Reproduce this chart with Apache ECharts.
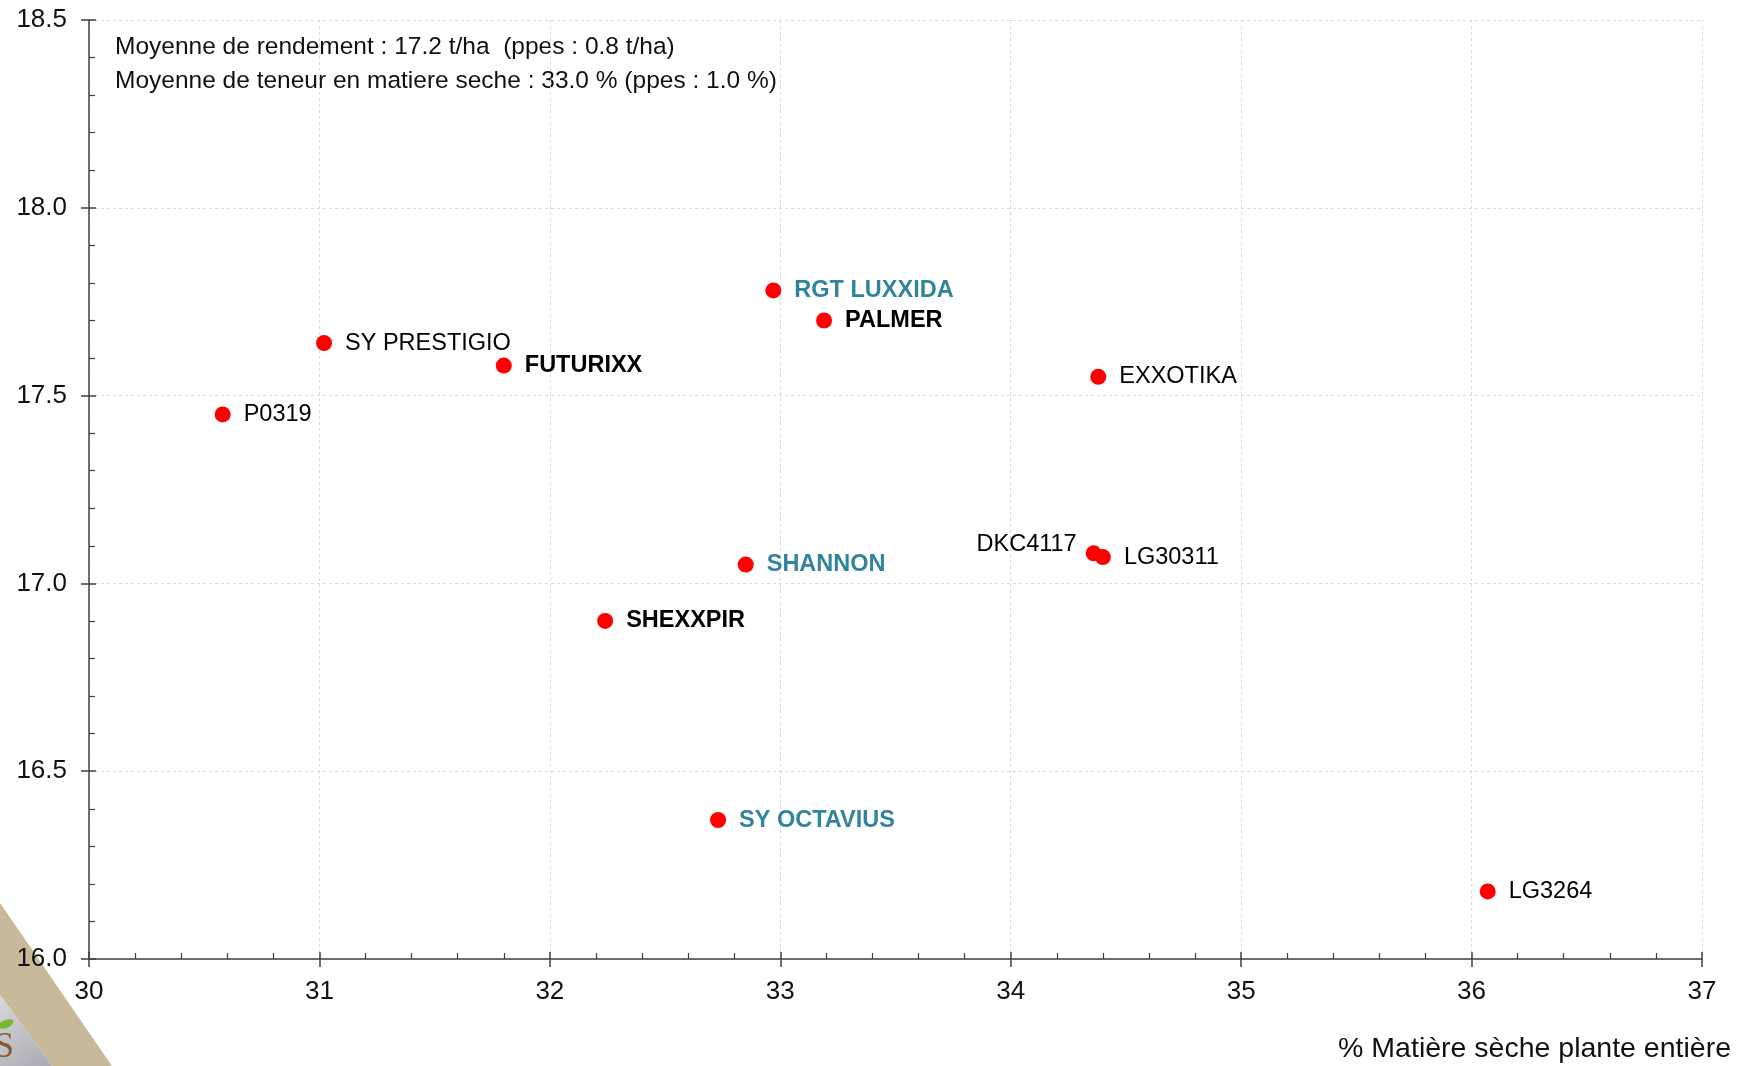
<!DOCTYPE html>
<html>
<head>
<meta charset="utf-8">
<script src="https://cdn.jsdelivr.net/npm/echarts@6/dist/echarts.min.js"></script>
<style>
  html, body { margin: 0; padding: 0; background: #fff; }
  #main { width: 1742px; height: 1066px; }
</style>
</head>
<body>
<div id="main"></div>
<script>
// variétés : % matière sèche (x) et rendement t/ha (y)
var names = ['P0319', 'SY PRESTIGIO', 'FUTURIXX', 'RGT LUXXIDA', 'PALMER', 'EXXOTIKA',
             'SHANNON', 'SHEXXPIR', 'DKC4117', 'LG30311', 'SY OCTAVIUS', 'LG3264'];
var matiereSeche = [30.58, 31.02, 31.80, 32.97, 33.19, 34.38, 32.85, 32.24, 34.36, 34.40, 32.73, 36.07];
var rendement = [17.45, 17.64, 17.58, 17.78, 17.70, 17.55, 17.05, 16.90, 17.08, 17.07, 16.37, 16.18];
// 'blue' = bleu gras, 'bold' = noir gras, 'normal', 'left' = étiquette à gauche
var labelType = ['normal', 'normal', 'bold', 'blue', 'bold', 'normal',
                 'blue', 'bold', 'left', 'normal', 'blue', 'normal'];
var xTicks = [30, 31, 32, 33, 34, 35, 36, 37];
var yTicks = [16.0, 16.5, 17.0, 17.5, 18.0, 18.5];
var noteLines = ['Moyenne de rendement : 17.2 t/ha  (ppes : 0.8 t/ha)',
                 'Moyenne de teneur en matiere seche : 33.0 % (ppes : 1.0 %)'];
var xName = '% Matière sèche plante entière';

var FONT = 'Liberation Sans, Arial, sans-serif';

var points = names.map(function (n, i) {
  var t = labelType[i];
  var lab = {
    show: true,
    position: 'right',
    distance: 13,
    formatter: n,
    fontFamily: FONT,
    fontSize: 23.5,
    color: '#000'
  };
  if (t === 'blue') { lab.color = '#31849B'; lab.fontWeight = 'bold'; }
  if (t === 'bold') { lab.fontWeight = 'bold'; }
  if (t === 'left') { lab.position = 'left'; lab.distance = 9; lab.offset = [0, -9]; }
  return { value: [matiereSeche[i], rendement[i]], label: lab };
});

var axisCol = '#404040';
var chart = echarts.init(document.getElementById('main'));
chart.setOption({
  animation: false,
  backgroundColor: '#fff',
  grid: { left: 89, right: 40, top: 20, bottom: 107 },
  xAxis: [{
    type: 'value', min: xTicks[0], max: xTicks[xTicks.length - 1], interval: 1,
    axisLine: { show: true, lineStyle: { color: axisCol, width: 1.5 } },
    axisTick: { show: true, inside: true, length: 7, lineStyle: { color: axisCol, width: 1.5 } },
    minorTick: { show: true, splitNumber: 5, length: 6, lineStyle: { color: axisCol, width: 1.2 } },
    splitLine: { show: true, lineStyle: { color: '#d9d9d9', type: [3, 3], width: 1 } },
    axisLabel: { fontFamily: FONT, fontSize: 26, color: '#111', margin: 20 }
  }, {
    type: 'value', min: xTicks[0], max: xTicks[xTicks.length - 1], interval: 1,
    position: 'bottom',
    axisLine: { show: false },
    axisTick: { show: true, inside: false, length: 8, lineStyle: { color: axisCol, width: 1.5 } },
    splitLine: { show: false },
    axisLabel: { show: false }
  }],
  yAxis: [{
    type: 'value', min: yTicks[0], max: yTicks[yTicks.length - 1], interval: 0.5,
    axisLine: { show: true, lineStyle: { color: axisCol, width: 1.5 } },
    axisTick: { show: true, inside: true, length: 7, lineStyle: { color: axisCol, width: 1.5 } },
    minorTick: { show: true, splitNumber: 5, length: 6, lineStyle: { color: axisCol, width: 1.2 } },
    splitLine: { show: true, lineStyle: { color: '#d9d9d9', type: [3, 3], width: 1 } },
    axisLabel: {
      fontFamily: FONT, fontSize: 26, color: '#111', margin: 22,
      formatter: function (v) { return v.toFixed(1); }
    }
  }, {
    type: 'value', min: yTicks[0], max: yTicks[yTicks.length - 1], interval: 0.5,
    position: 'left',
    axisLine: { show: false },
    axisTick: { show: true, inside: false, length: 8, lineStyle: { color: axisCol, width: 1.5 } },
    splitLine: { show: false },
    axisLabel: { show: false }
  }],
  graphic: [
    // coin du logo en bas à gauche
    { type: 'polygon', z: -10, shape: { points: [[0, 903], [112, 1066], [52, 1066], [0, 995]] },
      style: { fill: '#c9b99b' } },
    { type: 'polygon', z: -10, shape: { points: [[0, 995], [52, 1066], [0, 1066]] },
      style: { fill: new echarts.graphic.LinearGradient(0, 0, 1, 1, [
        { offset: 0, color: '#d8d8dc' }, { offset: 1, color: '#a9aab2' }]) } },
    { type: 'text', z: -9, left: -6, top: 1030,
      style: { text: 'S', font: '36px Liberation Serif, serif', fill: '#8a5a2b' } },
    { type: 'ellipse', z: -9, x: 6, y: 1024, rotation: 0.4,
      shape: { cx: 0, cy: 0, rx: 8, ry: 4 }, style: { fill: '#7cb82f' } },
    { type: 'text', left: 115, top: 35,
      style: { text: noteLines[0], font: '24.5px ' + FONT, fill: '#111' } },
    { type: 'text', left: 115, top: 69,
      style: { text: noteLines[1], font: '24.5px ' + FONT, fill: '#111' } },
    { type: 'text', right: 11, top: 1035,
      style: { text: xName, font: '28.5px ' + FONT, fill: '#111' } }
  ],
  series: [{
    type: 'scatter',
    symbolSize: 16,
    itemStyle: { color: '#ff0000', opacity: 1 },
    data: points
  }]
});
</script>
</body>
</html>
